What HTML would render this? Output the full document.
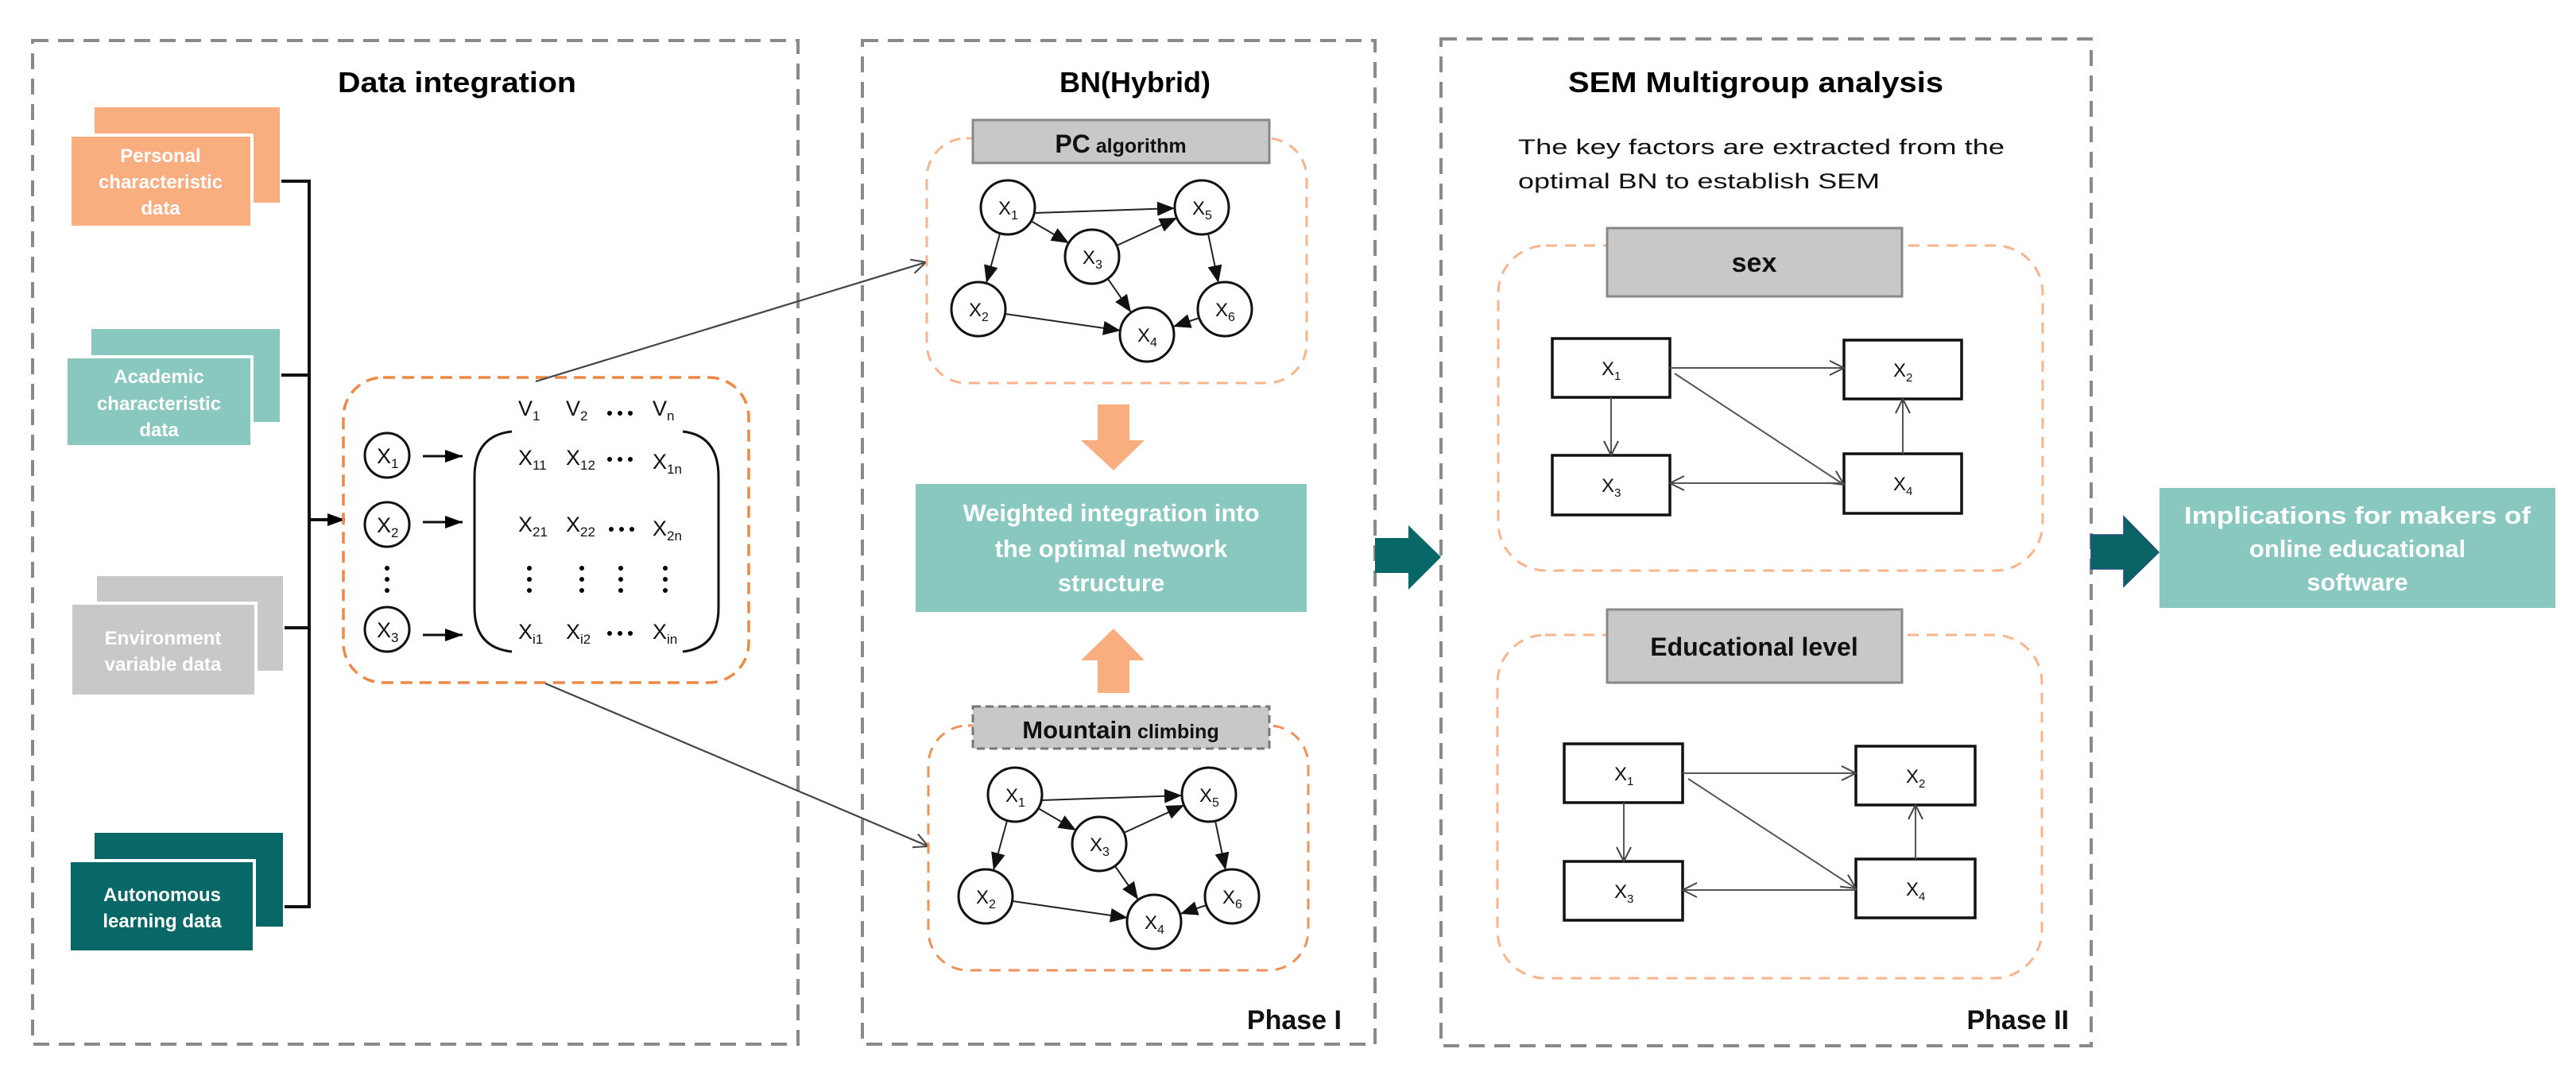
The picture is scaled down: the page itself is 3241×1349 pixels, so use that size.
<!DOCTYPE html>
<html><head><meta charset="utf-8">
<style>
html,body{margin:0;padding:0;background:#fff;}
svg{display:block;font-family:"Liberation Sans",Arial,sans-serif;}
</style></head>
<body>
<svg width="3241" height="1349" viewBox="0 0 3241 1349" xmlns="http://www.w3.org/2000/svg">
<defs>
<marker id="fa" markerUnits="userSpaceOnUse" markerWidth="24" markerHeight="20" refX="22" refY="10" orient="auto">
<path d="M0,1 L22,10 L0,19 z" fill="#111"/></marker>
<marker id="fs" markerUnits="userSpaceOnUse" markerWidth="24" markerHeight="20" refX="22" refY="10" orient="auto">
<path d="M0,2 L22,10 L0,18 z" fill="#000"/></marker>
<marker id="oa" markerUnits="userSpaceOnUse" markerWidth="24" markerHeight="24" refX="20" refY="12" orient="auto">
<path d="M2,3 L20,12 L2,21" fill="none" stroke="#444" stroke-width="2"/></marker>
</defs>

<!-- Panels -->
<g fill="none" stroke="#8a8a8a" stroke-width="4" stroke-dasharray="20 12">
<rect x="41" y="51" width="963" height="1263"/>
<rect x="1085" y="51" width="645" height="1263"/>
<rect x="1813" y="49" width="818" height="1267"/>
</g>

<!-- Titles -->
<g font-weight="bold" font-size="36" text-anchor="middle" fill="#000">
<text x="575" y="116" textLength="300" lengthAdjust="spacingAndGlyphs">Data integration</text>
<text x="1428" y="116">BN(Hybrid)</text>
<text x="2209" y="116" textLength="472" lengthAdjust="spacingAndGlyphs">SEM Multigroup analysis</text>
</g>

<!-- Data boxes -->
<g stroke="#fff" stroke-width="4">
<rect x="117" y="133" width="237" height="124" fill="#F9AE80"/>
<rect x="88" y="170" width="229" height="116" fill="#F9AE80"/>
<rect x="113" y="412" width="241" height="121" fill="#88C8BF"/>
<rect x="83" y="449" width="234" height="113" fill="#88C8BF"/>
<rect x="120" y="723" width="238" height="123" fill="#C8C8C8"/>
<rect x="89" y="759" width="233" height="117" fill="#C8C8C8"/>
<rect x="117" y="1046" width="241" height="122" fill="#086868"/>
<rect x="87" y="1083" width="233" height="115" fill="#086868"/>
</g>
<g fill="#fff" font-size="24" font-weight="bold" text-anchor="middle">
<text x="202" y="204">Personal</text>
<text x="202" y="237">characteristic</text>
<text x="202" y="270">data</text>
<text x="200" y="482">Academic</text>
<text x="200" y="516">characteristic</text>
<text x="200" y="549">data</text>
<text x="205" y="811">Environment</text>
<text x="205" y="844">variable data</text>
<text x="204" y="1134">Autonomous</text>
<text x="204" y="1167">learning data</text>
</g>

<!-- bus -->
<g stroke="#111" stroke-width="4" fill="none">
<polyline points="354,228 389,228 389,1141 358,1141"/>
<line x1="354" y1="472" x2="389" y2="472"/>
<line x1="358" y1="790" x2="389" y2="790"/>
<line x1="389" y1="654" x2="434" y2="654" marker-end="url(#fs)"/>
</g>

<!-- matrix box -->
<rect x="432" y="475" width="510" height="384" rx="50" fill="none" stroke="#EE8844" stroke-width="3.5" stroke-dasharray="15 9"/>
<g fill="none" stroke="#111" stroke-width="3">
<circle cx="487" cy="573" r="28"/>
<circle cx="487" cy="660" r="28"/>
<circle cx="487" cy="792" r="28"/>
<path d="M644,543 Q597,548 597,600 L597,765 Q597,815 644,820"/>
<path d="M859,543 Q904,548 904,600 L904,765 Q904,815 859,820"/>
</g>
<g stroke="#111" stroke-width="3">
<line x1="532" y1="574" x2="582" y2="574" marker-end="url(#fs)"/>
<line x1="532" y1="657" x2="582" y2="657" marker-end="url(#fs)"/>
<line x1="532" y1="799" x2="582" y2="799" marker-end="url(#fs)"/>
</g>
<g fill="#000">
<circle cx="487" cy="715" r="3"/><circle cx="487" cy="729" r="3"/><circle cx="487" cy="743" r="3"/>
<circle cx="666" cy="715" r="3"/><circle cx="666" cy="729" r="3"/><circle cx="666" cy="743" r="3"/>
<circle cx="732" cy="715" r="3"/><circle cx="732" cy="729" r="3"/><circle cx="732" cy="743" r="3"/>
<circle cx="781" cy="715" r="3"/><circle cx="781" cy="729" r="3"/><circle cx="781" cy="743" r="3"/>
<circle cx="837" cy="715" r="3"/><circle cx="837" cy="729" r="3"/><circle cx="837" cy="743" r="3"/>
<circle cx="767" cy="520" r="3"/><circle cx="780" cy="520" r="3"/><circle cx="793" cy="520" r="3"/>
<circle cx="767" cy="578" r="3"/><circle cx="780" cy="578" r="3"/><circle cx="793" cy="578" r="3"/>
<circle cx="769" cy="666" r="3"/><circle cx="782" cy="666" r="3"/><circle cx="795" cy="666" r="3"/>
<circle cx="767" cy="797" r="3"/><circle cx="780" cy="797" r="3"/><circle cx="793" cy="797" r="3"/>
</g>
<g font-size="27" fill="#111">
<text x="474" y="583">X<tspan font-size="17" dy="6">1</tspan></text>
<text x="474" y="670">X<tspan font-size="17" dy="6">2</tspan></text>
<text x="474" y="802">X<tspan font-size="17" dy="6">3</tspan></text>
<text x="652" y="523">V<tspan font-size="17" dy="6">1</tspan></text>
<text x="712" y="523">V<tspan font-size="17" dy="6">2</tspan></text>
<text x="821" y="523">V<tspan font-size="17" dy="6">n</tspan></text>
<text x="652" y="585">X<tspan font-size="17" dy="6">11</tspan></text>
<text x="712" y="585">X<tspan font-size="17" dy="6">12</tspan></text>
<text x="821" y="590">X<tspan font-size="17" dy="6">1n</tspan></text>
<text x="652" y="669">X<tspan font-size="17" dy="6">21</tspan></text>
<text x="712" y="669">X<tspan font-size="17" dy="6">22</tspan></text>
<text x="821" y="674">X<tspan font-size="17" dy="6">2n</tspan></text>
<text x="652" y="804">X<tspan font-size="17" dy="6">i1</tspan></text>
<text x="712" y="804">X<tspan font-size="17" dy="6">i2</tspan></text>
<text x="821" y="804">X<tspan font-size="17" dy="6">in</tspan></text>
</g>

<!-- long connectors -->
<g stroke="#444" stroke-width="2.2" fill="none">
<line x1="674" y1="480" x2="1165" y2="330" marker-end="url(#oa)"/>
<line x1="686" y1="860" x2="1168" y2="1065" marker-end="url(#oa)"/>
</g>

<!-- PC box -->
<rect x="1166" y="174" width="478" height="308" rx="50" fill="none" stroke="#F9B48C" stroke-width="3" stroke-dasharray="14 10"/>
<rect x="1224" y="151" width="373" height="54" fill="#C8C8C8" stroke="#888" stroke-width="3"/>
<text x="1410" y="192" text-anchor="middle" font-weight="bold" fill="#111"><tspan font-size="32">PC</tspan><tspan font-size="25"> algorithm</tspan></text>

<g id="g1">
<g fill="#fff" stroke="#111" stroke-width="3">
<circle cx="1268" cy="261" r="34"/><circle cx="1512" cy="261" r="34"/>
<circle cx="1374" cy="323" r="34"/><circle cx="1231" cy="389" r="34"/>
<circle cx="1541" cy="389" r="34"/><circle cx="1443" cy="421" r="34"/>
</g>
<g stroke="#222" stroke-width="2" marker-end="url(#fa)">
<line x1="1302" y1="268" x2="1478" y2="262"/>
<line x1="1297" y1="278" x2="1345" y2="306"/>
<line x1="1258" y1="294" x2="1241" y2="356"/>
<line x1="1405" y1="309" x2="1481" y2="274"/>
<line x1="1394" y1="351" x2="1423" y2="393"/>
<line x1="1265" y1="395" x2="1410" y2="416"/>
<line x1="1520" y1="294" x2="1533" y2="356"/>
<line x1="1509" y1="400" x2="1476" y2="411"/>
</g>
<g font-size="24" fill="#111">
<text x="1256" y="270">X<tspan font-size="16" dy="6">1</tspan></text>
<text x="1500" y="270">X<tspan font-size="16" dy="6">5</tspan></text>
<text x="1362" y="332">X<tspan font-size="16" dy="6">3</tspan></text>
<text x="1219" y="398">X<tspan font-size="16" dy="6">2</tspan></text>
<text x="1529" y="398">X<tspan font-size="16" dy="6">6</tspan></text>
<text x="1431" y="430">X<tspan font-size="16" dy="6">4</tspan></text>
</g>
</g>

<!-- orange arrows -->
<path d="M1381,509 L1421,509 L1421,554 L1440,554 L1401,592 L1360,554 L1381,554 z" fill="#F9AE80"/>
<path d="M1381,872 L1421,872 L1421,831 L1440,831 L1401,791 L1360,831 L1381,831 z" fill="#F9AE80"/>

<rect x="1152" y="609" width="492" height="161" fill="#88C8BF"/>
<g fill="#fff" font-size="31" font-weight="bold" text-anchor="middle">
<text x="1398" y="656">Weighted integration into</text>
<text x="1398" y="701">the optimal network</text>
<text x="1398" y="744">structure</text>
</g>

<!-- Mountain box -->
<rect x="1168" y="913" width="478" height="308" rx="50" fill="none" stroke="#F0915A" stroke-width="3" stroke-dasharray="14 10"/>
<rect x="1224" y="889" width="373" height="53" fill="#C8C8C8" stroke="#777" stroke-width="3" stroke-dasharray="10 6"/>
<text x="1410" y="929" text-anchor="middle" font-weight="bold" fill="#111"><tspan font-size="31">Mountain</tspan><tspan font-size="25"> climbing</tspan></text>

<g transform="translate(9,739)">
<g fill="#fff" stroke="#111" stroke-width="3">
<circle cx="1268" cy="261" r="34"/><circle cx="1512" cy="261" r="34"/>
<circle cx="1374" cy="323" r="34"/><circle cx="1231" cy="389" r="34"/>
<circle cx="1541" cy="389" r="34"/><circle cx="1443" cy="421" r="34"/>
</g>
<g stroke="#222" stroke-width="2" marker-end="url(#fa)">
<line x1="1302" y1="268" x2="1478" y2="262"/>
<line x1="1297" y1="278" x2="1345" y2="306"/>
<line x1="1258" y1="294" x2="1241" y2="356"/>
<line x1="1405" y1="309" x2="1481" y2="274"/>
<line x1="1394" y1="351" x2="1423" y2="393"/>
<line x1="1265" y1="395" x2="1410" y2="416"/>
<line x1="1520" y1="294" x2="1533" y2="356"/>
<line x1="1509" y1="400" x2="1476" y2="411"/>
</g>
<g font-size="24" fill="#111">
<text x="1256" y="270">X<tspan font-size="16" dy="6">1</tspan></text>
<text x="1500" y="270">X<tspan font-size="16" dy="6">5</tspan></text>
<text x="1362" y="332">X<tspan font-size="16" dy="6">3</tspan></text>
<text x="1219" y="398">X<tspan font-size="16" dy="6">2</tspan></text>
<text x="1529" y="398">X<tspan font-size="16" dy="6">6</tspan></text>
<text x="1431" y="430">X<tspan font-size="16" dy="6">4</tspan></text>
</g>
</g>

<text x="1688" y="1295" text-anchor="end" font-size="34" font-weight="bold" fill="#111">Phase I</text>

<!-- dark arrows -->
<path d="M1730,677 L1772,677 L1772,661 L1813,701 L1772,742 L1772,721 L1730,721 z" fill="#086868"/>
<path d="M2631,673 L2672,673 L2672,650 L2716,695 L2672,738 L2672,716 L2631,716 z" fill="#0A6464" stroke="#1d4f7a" stroke-width="1.5"/>

<!-- Panel 3 -->
<g font-size="27" fill="#111">
<text x="1910" y="194" textLength="612" lengthAdjust="spacingAndGlyphs">The key factors are extracted from the</text>
<text x="1910" y="237" textLength="455" lengthAdjust="spacingAndGlyphs">optimal BN to establish SEM</text>
</g>

<rect x="1885" y="309" width="685" height="409" rx="60" fill="none" stroke="#F9B48C" stroke-width="3" stroke-dasharray="14 10"/>
<rect x="2022" y="287" width="371" height="86" fill="#C8C8C8" stroke="#888" stroke-width="3"/>
<text x="2207" y="342" text-anchor="middle" font-size="34" font-weight="bold" fill="#111">sex</text>

<g fill="#fff" stroke="#111" stroke-width="3.5">
<rect x="1953" y="426" width="148" height="74"/>
<rect x="2320" y="428" width="148" height="74"/>
<rect x="1953" y="573" width="148" height="75"/>
<rect x="2320" y="571" width="148" height="75"/>
</g>
<g stroke="#555" stroke-width="2" marker-end="url(#oa)">
<line x1="2101" y1="463" x2="2320" y2="463"/>
<line x1="2027" y1="500" x2="2027" y2="573"/>
<line x1="2107" y1="470" x2="2320" y2="610"/>
<line x1="2320" y1="608" x2="2101" y2="608"/>
<line x1="2394" y1="571" x2="2394" y2="502"/>
</g>
<g font-size="24" fill="#111">
<text x="2015" y="472">X<tspan font-size="15" dy="6">1</tspan></text>
<text x="2382" y="474">X<tspan font-size="15" dy="6">2</tspan></text>
<text x="2015" y="619">X<tspan font-size="15" dy="6">3</tspan></text>
<text x="2382" y="617">X<tspan font-size="15" dy="6">4</tspan></text>
</g>

<rect x="1884" y="799" width="685" height="432" rx="60" fill="none" stroke="#F9B48C" stroke-width="3" stroke-dasharray="14 10"/>
<rect x="2022" y="767" width="371" height="92" fill="#C8C8C8" stroke="#888" stroke-width="3"/>
<text x="2207" y="825" text-anchor="middle" font-size="32" font-weight="bold" fill="#111">Educational level</text>

<g fill="#fff" stroke="#111" stroke-width="3.5">
<rect x="1968" y="936" width="149" height="74"/>
<rect x="2335" y="939" width="150" height="74"/>
<rect x="1968" y="1084" width="149" height="74"/>
<rect x="2335" y="1081" width="150" height="74"/>
</g>
<g stroke="#555" stroke-width="2" marker-end="url(#oa)">
<line x1="2117" y1="973" x2="2335" y2="973"/>
<line x1="2043" y1="1010" x2="2043" y2="1084"/>
<line x1="2124" y1="980" x2="2335" y2="1118"/>
<line x1="2335" y1="1120" x2="2117" y2="1120"/>
<line x1="2410" y1="1081" x2="2410" y2="1013"/>
</g>
<g font-size="24" fill="#111">
<text x="2031" y="982">X<tspan font-size="15" dy="6">1</tspan></text>
<text x="2398" y="985">X<tspan font-size="15" dy="6">2</tspan></text>
<text x="2031" y="1130">X<tspan font-size="15" dy="6">3</tspan></text>
<text x="2398" y="1127">X<tspan font-size="15" dy="6">4</tspan></text>
</g>

<text x="2603" y="1295" text-anchor="end" font-size="34" font-weight="bold" fill="#111">Phase II</text>

<!-- Implications -->
<rect x="2717" y="614" width="498" height="151" fill="#88C8BF"/>
<g fill="#fff" font-size="31" font-weight="bold" text-anchor="middle">
<text x="2966" y="659" textLength="436" lengthAdjust="spacingAndGlyphs">Implications for makers of</text>
<text x="2966" y="701">online educational</text>
<text x="2966" y="743">software</text>
</g>
</svg>
</body></html>
